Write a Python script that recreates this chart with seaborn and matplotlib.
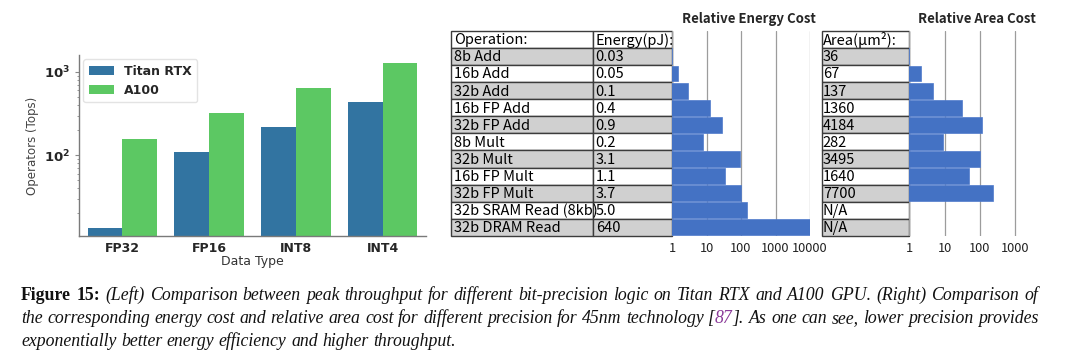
import numpy as np
import pandas as pd
import matplotlib
matplotlib.use('Agg')
import matplotlib.pyplot as plt
import seaborn as sns
from matplotlib.patches import Rectangle
from matplotlib.ticker import FixedLocator, FixedFormatter, NullFormatter, LogLocator

# ---------------- data: left chart ----------------
data_types = ['FP32', 'FP16', 'INT8', 'INT4']
devices = ['Titan RTX', 'A100']
titan_tops = [13.3, 109, 217, 441]
a100_tops = [156, 319, 643, 1283]
ytick_vals = [100, 1000]
ytick_labels = [r'$\mathbf{10^{2}}$', r'$\mathbf{10^{3}}$']

# ---------------- data: right tables ----------------
operations = ['8b Add', '16b Add', '32b Add', '16b FP Add', '32b FP Add', '8b Mult',
              '32b Mult', '16b FP Mult', '32b FP Mult', '32b SRAM Read (8kb)', '32b DRAM Read']
energy_pj = ['0.03', '0.05', '0.1', '0.4', '0.9', '0.2', '3.1', '1.1', '3.7', '5.0', '640']
area_um2 = ['36', '67', '137', '1360', '4184', '282', '3495', '1640', '7700', 'N/A', 'N/A']
energy_rel = [1, 1.5, 3.0, 13, 29, 8.0, 92, 34, 103, 150, 10000]
area_rel = [1, 2.1, 4.8, 32, 117, 8.8, 100, 49, 240, np.nan, np.nan]
energy_ticks = [1, 10, 100, 1000, 10000]
energy_tick_labels = ['1', '10', '100', '1000', '10000']
area_ticks = [1, 10, 100, 1000]
area_tick_labels = ['1', '10', '100', '1000']
headers_ops = ['Operation:', 'Energy(pJ):']
header_area = 'Area(μm²):'
title_energy = 'Relative Energy Cost'
title_area = 'Relative Area Cost'

caption_bold = 'Figure 15:'
caption_l1 = ('(Left) Comparison between peak throughput for different bit-precision logic on '
              'Titan RTX and A100 GPU. (Right) Comparison of')
caption_l2a = ('the corresponding energy cost and relative area cost for different precision '
               'for 45nm technology')
caption_ref = '87'
caption_l2b = 'As one can see, lower precision provides'
caption_l3 = 'exponentially better energy efficiency and higher throughput.'

# ---------------- setup ----------------
sns.set_style('white')
plt.rcParams['font.family'] = ['DejaVu Sans']
W, H = 1080, 360
fig = plt.figure(figsize=(W / 100, H / 100), dpi=100)

def fa(x0, y_top, x1, y_bot):
    return [x0 / W, 1 - y_bot / H, (x1 - x0) / W, (y_bot - y_top) / H]

# ---------------- left chart ----------------
df = pd.DataFrame({
    'Data Type': data_types * 2,
    'Device': [devices[0]] * len(data_types) + [devices[1]] * len(data_types),
    'Tops': titan_tops + a100_tops,
})
axL = fig.add_axes(fa(79, 55, 426, 236))
axL.set_yscale('log')
sns.barplot(data=df, x='Data Type', y='Tops', hue='Device',
            palette=['#3274a1', '#5cc863'], saturation=1, width=0.8,
            ax=axL, edgecolor='none')
axL.set_ylim(10.7, 1600)
axL.yaxis.set_major_locator(FixedLocator(ytick_vals))
axL.yaxis.set_major_formatter(FixedFormatter(ytick_labels))
axL.yaxis.set_minor_locator(LogLocator(base=10, subs=np.arange(2, 10)))
axL.yaxis.set_minor_formatter(NullFormatter())
axL.tick_params(axis='y', which='major', left=True, length=3, width=0.8, color='#888888',
                labelsize=9.5, pad=3)
axL.tick_params(axis='y', which='minor', left=True, length=1.6, width=0.6, color='#888888')
axL.tick_params(axis='x', bottom=False, labelsize=9, pad=1)
for lab in axL.get_xticklabels():
    lab.set_fontweight('bold')
for s in ['top', 'right']:
    axL.spines[s].set_visible(False)
for s in ['left', 'bottom']:
    axL.spines[s].set_color('#7a7a7a')
    axL.spines[s].set_linewidth(1.0)
axL.set_xlabel('Data Type', fontsize=9, color='#333333', labelpad=0)
axL.set_ylabel('Operators (Tops)', fontsize=8.5, color='#444444', labelpad=4)
h, l = axL.get_legend_handles_labels()
axL.legend(h, l, loc='upper left', prop=dict(weight='bold', size=9), frameon=True,
           edgecolor='#dddddd', fancybox=True, borderpad=0.45, labelspacing=0.45,
           handlelength=2.0, borderaxespad=0.35)

# ---------------- right: tables + bars ----------------
TOP, BOT = 30.7, 236
CJK = ['Noto Sans CJK SC', 'DejaVu Sans']
TFS = 10.5
GRAY = '#d0d0d0'
EDGE = '#3c3c3c'
n = len(operations)

def draw_table(ax, columns, bounds):
    ax.set_xlim(0, 1)
    ax.set_ylim(n - 0.5, -1.5)
    ax.axis('off')
    for r in range(-1, n):
        fc = 'white' if (r == -1 or r % 2 == 1) else GRAY
        for c, col in enumerate(columns):
            x0, x1 = bounds[c], bounds[c + 1]
            ax.add_patch(Rectangle((x0, r - 0.5), x1 - x0, 1.0, facecolor=fc,
                                   edgecolor=EDGE, linewidth=1.0, clip_on=False))
            ax.text(x0 + 0.012 / (bounds[-1]), r + 0.06, col[r + 1], ha='left', va='center',
                    fontsize=TFS, family=CJK, color='black', clip_on=False)

axT1 = fig.add_axes(fa(451, TOP, 672, BOT))
draw_table(axT1, [[headers_ops[0]] + operations, [headers_ops[1]] + energy_pj],
           [0, 0.6425, 1.0])
axT2 = fig.add_axes(fa(821.7, TOP, 909.3, BOT))
draw_table(axT2, [[header_area] + area_um2], [0, 1.0])

def bar_axes(rect, vals, xlim, ticks, labels):
    ax = fig.add_axes(rect)
    ax.set_xscale('log')
    sns.barplot(x=vals, y=operations, orient='h', color='#4472c4', saturation=1,
                width=0.93, ax=ax, edgecolor='#4f7acb', linewidth=0.5)
    ax.set_xscale('log')
    ax.set_xlim(*xlim)
    ax.set_ylim(n - 0.5, -1.5)
    ax.set_axisbelow(True)
    ax.xaxis.set_major_locator(FixedLocator(ticks))
    ax.xaxis.set_major_formatter(FixedFormatter(labels))
    ax.xaxis.set_minor_locator(FixedLocator([]))
    ax.grid(axis='x', color='#9c9c9c', linewidth=0.9)
    ax.grid(axis='y', visible=False)
    ax.set_yticks([])
    ax.set_xlabel('')
    ax.set_ylabel('')
    for s in ax.spines.values():
        s.set_visible(False)
    ax.tick_params(axis='x', length=0, pad=4, labelsize=9.2)
    for lab in ax.get_xticklabels():
        lab.set_family(CJK)
        lab.set_color('#222222')
    ax.patch.set_alpha(0)
    return ax

axE = bar_axes(fa(672, TOP, 810, BOT), energy_rel, (1, 10000), energy_ticks, energy_tick_labels)
axA = bar_axes(fa(909.3, TOP, 1045, BOT), area_rel, (1, 10 ** 3.85), area_ticks, area_tick_labels)

fig.text(749 / W, 1 - 19 / H, title_energy, ha='center', va='center', fontsize=9.5,
         weight='bold', family=CJK)
fig.text(977 / W, 1 - 19 / H, title_area, ha='center', va='center', fontsize=9.5,
         weight='bold', family=CJK)

# ---------------- caption ----------------
renderer = fig.canvas.get_renderer()
SERIF = 'Liberation Serif'
def sty(kind, size):
    d = dict(family=SERIF, fontsize=size, color='#111111')
    if kind == 'B':
        d.update(weight='bold', style='normal')
    elif kind == 'I':
        d.update(style='italic')
    elif kind == 'P':
        d.update(style='italic', color='#8a3a98')
    return d

def words(text, kind):
    return [[(w, kind)] for w in text.split()]

line1 = words(caption_bold, 'B') + words(caption_l1, 'I')
line2 = words(caption_l2a, 'I') + [[('[', 'I'), (caption_ref, 'P'), ('].', 'I')]] + words(caption_l2b, 'I')
line3 = words(caption_l3, 'I')

def measure(text, kind, size):
    t = fig.text(0, 0, text, **sty(kind, size))
    w = t.get_window_extent(renderer).width
    t.remove()
    return w

def word_width(word, size):
    return sum(measure(p, k, size) for p, k in word)

def space_width(size):
    return measure('a a', 'I', size) - measure('aa', 'I', size)

X0, X1 = 21, 1038
base = 12.0
nat = sum(word_width(w, base) for w in line1) + (len(line1) - 1) * space_width(base)
size = base * (X1 - X0 - 10) / nat

def draw_line(line, ybase, justify):
    ws = [word_width(w, size) for w in line]
    if justify:
        gap = (X1 - X0 - sum(ws)) / (len(line) - 1)
    else:
        gap = space_width(size)
    x = X0
    for w, wd in zip(line, ws):
        xx = x
        for p, k in w:
            fig.text(xx / W, 1 - ybase / H, p, va='baseline', ha='left', **sty(k, size))
            xx += measure(p, k, size)
        x += wd + gap

draw_line(line1, 300, True)
draw_line(line2, 323, True)
draw_line(line3, 345.5, False)

fig.savefig('out.png', dpi=100)
